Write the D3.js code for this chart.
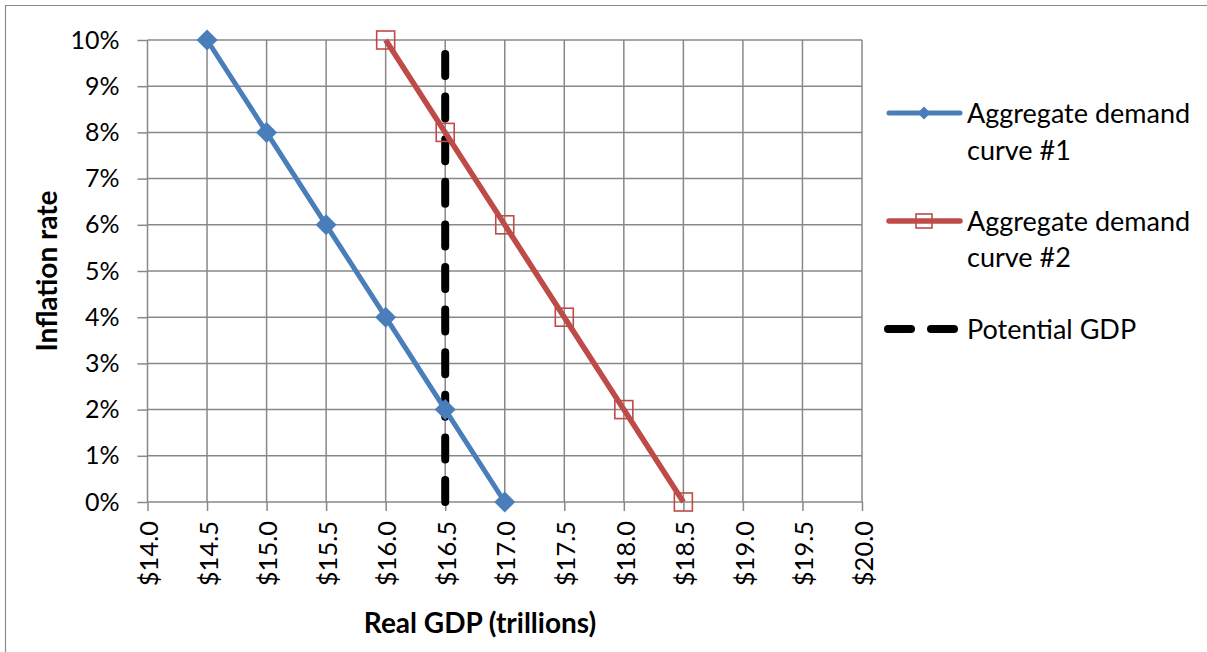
<!DOCTYPE html>
<html>
<head>
<meta charset="utf-8">
<script src="https://cdn.jsdelivr.net/npm/d3@7"></script>
<style>
  body { margin: 0; background: #fff; }
  svg { display: block; font-family: Lato, "Open Sans", sans-serif; }
</style>
</head>
<body>
<div id="chart"></div>
<script>
// x values (trillions) and inflation (%) for each series
const ad1Gdp = [14.5, 15.0, 15.5, 16.0, 16.5, 17.0];
const ad1Inflation = [10, 8, 6, 4, 2, 0];
const ad2Gdp = [16.0, 16.5, 17.0, 17.5, 18.0, 18.5];
const ad2Inflation = [10, 8, 6, 4, 2, 0];
const potentialGdp = [16.5, 16.5];
const potentialInflation = [0, 10];

const xTicks = [14.0, 14.5, 15.0, 15.5, 16.0, 16.5, 17.0, 17.5, 18.0, 18.5, 19.0, 19.5, 20.0];
const yTicks = [0, 1, 2, 3, 4, 5, 6, 7, 8, 9, 10];

const W = 1207, H = 652;
const plot = {left: 147.5, right: 862, top: 40, bottom: 502};

const blue = "#4a7ebb", red = "#be4b48", grid = "#888888";

const svg = d3.select("#chart").append("svg")
    .attr("width", W)
    .attr("height", H);

// outer frame (chart box, cut off at right/bottom)
svg.append("path")
    .attr("d", `M5.5,${H} V5.5 H${W}`)
    .attr("fill", "none")
    .attr("stroke", "#8a8a8a")
    .attr("stroke-width", 1.2);

const x = d3.scaleLinear().domain([14, 20]).range([plot.left, plot.right]);
const y = d3.scaleLinear().domain([0, 10]).range([plot.bottom, plot.top]);

// gridlines
svg.append("g")
    .selectAll("line")
    .data(xTicks)
    .join("line")
        .attr("x1", d => x(d)).attr("x2", d => x(d))
        .attr("y1", plot.top).attr("y2", plot.bottom)
        .attr("stroke", grid).attr("stroke-width", 1.5);

svg.append("g")
    .selectAll("line")
    .data(yTicks)
    .join("line")
        .attr("x1", plot.left).attr("x2", plot.right)
        .attr("y1", d => y(d)).attr("y2", d => y(d))
        .attr("stroke", grid).attr("stroke-width", 1.5);

// y axis
const yAxis = svg.append("g")
    .attr("transform", `translate(${plot.left},0)`)
    .call(d3.axisLeft(y).tickValues(yTicks).tickFormat(d => d + "%").tickSize(10).tickPadding(18));
yAxis.select(".domain").remove();
yAxis.selectAll("line").attr("stroke", grid).attr("stroke-width", 1.5);
yAxis.selectAll("text")
    .attr("font-family", "Lato, sans-serif")
    .attr("font-size", 25)
    .attr("fill", "#000");

// x axis
const xAxis = svg.append("g")
    .attr("transform", `translate(0,${plot.bottom})`)
    .call(d3.axisBottom(x).tickValues(xTicks).tickFormat(d => "$" + d.toFixed(1)).tickSize(9));
xAxis.select(".domain").remove();
xAxis.selectAll("line").attr("stroke", grid).attr("stroke-width", 1.5);
xAxis.selectAll("text")
    .attr("font-family", "Lato, sans-serif")
    .attr("font-size", 25.5)
    .attr("fill", "#000")
    .attr("text-anchor", "end")
    .attr("transform", "rotate(-90)")
    .attr("x", -19)
    .attr("y", 1)
    .attr("dy", "0.36em");

// axis titles
svg.append("text")
    .attr("transform", `translate(57,271) rotate(-90)`)
    .attr("text-anchor", "middle")
    .attr("font-size", 28)
    .attr("font-weight", "bold")
    .text("Inflation rate");

svg.append("text")
    .attr("x", 480)
    .attr("y", 633)
    .attr("text-anchor", "middle")
    .attr("font-size", 28)
    .attr("font-weight", "bold")
    .text("Real GDP (trillions)");

const line = d3.line().x(d => x(d[0])).y(d => y(d[1]));

// potential GDP (drawn from bottom up, like the original)
svg.append("path")
    .datum(potentialGdp.map((g, i) => [g, potentialInflation[i]]))
    .attr("d", line)
    .attr("fill", "none")
    .attr("stroke", "#000")
    .attr("stroke-width", 8)
    .attr("stroke-linecap", "round")
    .attr("stroke-dasharray", "22,20.6");

// AD #1
const ad1 = ad1Gdp.map((g, i) => [g, ad1Inflation[i]]);
svg.append("path")
    .datum(ad1)
    .attr("d", line)
    .attr("fill", "none")
    .attr("stroke", blue)
    .attr("stroke-width", 5)
    .attr("stroke-linejoin", "round");

svg.append("g")
    .selectAll("path")
    .data(ad1)
    .join("path")
        .attr("transform", d => `translate(${x(d[0])},${y(d[1])})`)
        .attr("d", "M0,-10.5L10.5,0L0,10.5L-10.5,0Z")
        .attr("fill", blue);

// AD #2
const ad2 = ad2Gdp.map((g, i) => [g, ad2Inflation[i]]);
svg.append("path")
    .datum(ad2)
    .attr("d", line)
    .attr("fill", "none")
    .attr("stroke", red)
    .attr("stroke-width", 5.5)
    .attr("stroke-linejoin", "round");

svg.append("g")
    .selectAll("rect")
    .data(ad2)
    .join("rect")
        .attr("x", d => x(d[0]) - 9)
        .attr("y", d => y(d[1]) - 9)
        .attr("width", 18)
        .attr("height", 18)
        .attr("fill", "none")
        .attr("stroke", red)
        .attr("stroke-width", 1.6);

// legend
const legend = svg.append("g");
const lx0 = 889, lx1 = 960, lcx = 924, tx = 967;

legend.append("line")
    .attr("x1", lx0).attr("x2", lx1).attr("y1", 113).attr("y2", 113)
    .attr("stroke", blue).attr("stroke-width", 5).attr("stroke-linecap", "round");
legend.append("path")
    .attr("transform", `translate(${lcx},113)`)
    .attr("d", "M0,-6.5L6.5,0L0,6.5L-6.5,0Z")
    .attr("fill", blue);

legend.append("line")
    .attr("x1", lx0).attr("x2", lx1).attr("y1", 221).attr("y2", 221)
    .attr("stroke", red).attr("stroke-width", 5.5).attr("stroke-linecap", "round");
legend.append("rect")
    .attr("x", lcx - 8).attr("y", 214).attr("width", 16).attr("height", 14)
    .attr("fill", "none").attr("stroke", red).attr("stroke-width", 1.6);

legend.append("line")
    .attr("x1", lx0 - 1).attr("x2", lx1).attr("y1", 329).attr("y2", 329)
    .attr("stroke", "#000").attr("stroke-width", 8).attr("stroke-linecap", "round")
    .attr("stroke-dasharray", "23,20");

const legendLines = [
    ["Aggregate demand", 113], ["curve #1", 150],
    ["Aggregate demand", 221], ["curve #2", 257],
    ["Potential GDP", 329]
];
legend.selectAll("text")
    .data(legendLines)
    .join("text")
        .attr("x", tx)
        .attr("y", d => d[1])
        .attr("dy", "0.36em")
        .attr("font-size", 27)
        .text(d => d[0]);
</script>
</body>
</html>
